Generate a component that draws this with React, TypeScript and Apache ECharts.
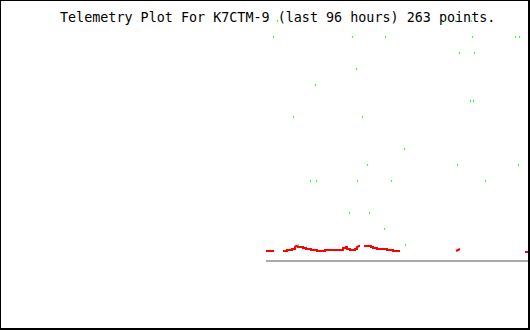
import React, { useEffect, useRef } from "react";
import * as echarts from "echarts";

const TITLE = "Telemetry Plot For K7CTM-9 (last 96 hours) 263 points.";

// x: hours within the 96 hour window, y: telemetry level
const greenHours = [
  4.18, 64.91, 68.91, 74.73,
  2.73, 31.45, 43.45, 75.09, 90.73, 92.18,
  70.36, 75.82,
  32.91,
  18.0,
  74.36, 75.45,
  10.0, 35.09,
  50.36,
  36.91, 69.64, 91.82,
  16.18, 18.36, 33.27, 45.64, 79.82,
  30.36, 37.64,
  43.09,
  11.82, 50.73,
];
const greenLevels = [
  15, 15, 15, 15,
  14, 14, 14, 14, 14, 14,
  13, 13,
  12,
  11,
  10, 10,
  9, 9,
  7,
  6, 6, 6,
  5, 5, 5, 5, 5,
  3, 3,
  2,
  1, 1,
];

const redHours: (number | null)[] = [
  0, 2.91, null,
  6.18, 7.64, 7.64, 9.45, 9.45, 10.55, 10.55, 10.91, 11.27, 11.64, 13.45, 13.45,
  14.55, 14.55, 16.36, 16.36, 18.55, 18.55, 21.45, 21.45, 28.0, 28.0, 29.09, 29.09,
  29.45, 29.45, 30.55, 30.55, 32.36, 32.36, 33.09, 33.09, 33.82, 34.18, null,
  35.64, 38.18, 38.18, 38.91, 38.91, 40.36, 40.36, 44.0, 44.0, 46.18, 46.18, 48.73, null,
  69.09, 69.82, 70.55, null,
  94.18, 96,
];
const redValues: (number | null)[] = [
  0.625, 0.625, null,
  0.625, 0.625, 0.6875, 0.6875, 0.75, 0.75, 0.875, 0.9375, 0.9375, 0.875, 0.875, 0.8125,
  0.8125, 0.75, 0.75, 0.6875, 0.6875, 0.625, 0.625, 0.6875, 0.6875, 0.8125, 0.8125, 0.875,
  0.875, 0.75, 0.75, 0.6875, 0.6875, 0.75, 0.75, 0.875, 0.9375, 0.9375, null,
  0.9375, 0.9375, 0.875, 0.875, 0.8125, 0.8125, 0.75, 0.75, 0.6875, 0.6875, 0.625, 0.625, null,
  0.625, 0.6875, 0.75, null,
  0.5625, 0.5625,
];

const baseHours = [0, 96];
const baseValues = [0, 0];

export default function App() {
  const ref = useRef<HTMLDivElement>(null);
  useEffect(() => {
    document.body.style.margin = "0";
    if (!ref.current) return;
    const chart = echarts.init(ref.current, null, { renderer: "svg" });
    const redData = redHours.map((h, i) =>
      h === null || redValues[i] === null ? [null, null] : [h, redValues[i]]
    );
    chart.setOption({
      animation: false,
      backgroundColor: "#ffffff",
      grid: { left: 266, top: 0, width: 264, height: 330 },
      xAxis: { type: "value", min: 0, max: 96, show: false },
      yAxis: { type: "value", min: -4.3125, max: 16.3125, show: false },
      graphic: [
        {
          type: "text",
          x: 60,
          y: 17,
          z: 0,
          style: {
            text: TITLE,
            fontFamily: "DejaVu Sans Mono",
            fontSize: 13.4,
            fill: "#000000",
            verticalAlign: "middle",
            align: "left",
          },
        },
        { type: "rect", shape: { x: 0, y: 0, width: 530, height: 1 }, style: { fill: "#000" }, z: 100 },
        { type: "rect", shape: { x: 0, y: 0, width: 1, height: 330 }, style: { fill: "#000" }, z: 100 },
        { type: "rect", shape: { x: 528, y: 0, width: 2, height: 330 }, style: { fill: "#000" }, z: 100 },
        { type: "rect", shape: { x: 0, y: 328, width: 530, height: 2 }, style: { fill: "#000" }, z: 100 },
      ],
      series: [
        {
          type: "line",
          data: baseHours.map((h, i) => [h, baseValues[i]]),
          symbol: "none",
          silent: true,
          lineStyle: { color: "#aaaaaa", width: 2, cap: "butt" },
          z: 2,
        },
        {
          type: "line",
          data: redData,
          symbol: "none",
          connectNulls: false,
          silent: true,
          lineStyle: { color: "#ff0000", width: 2, cap: "butt", join: "miter" },
          z: 3,
        },
        {
          type: "scatter",
          data: greenHours.map((h, i) => [h, greenLevels[i]]),
          symbol: "rect",
          symbolSize: [1.2, 2],
          silent: true,
          itemStyle: { color: "#00ff00" },
          z: 4,
        },
      ],
    });
    return () => chart.dispose();
  }, []);
  return (
    <div
      ref={ref}
      style={{ position: "absolute", left: 0, top: 0, width: 530, height: 330 }}
    />
  );
}
